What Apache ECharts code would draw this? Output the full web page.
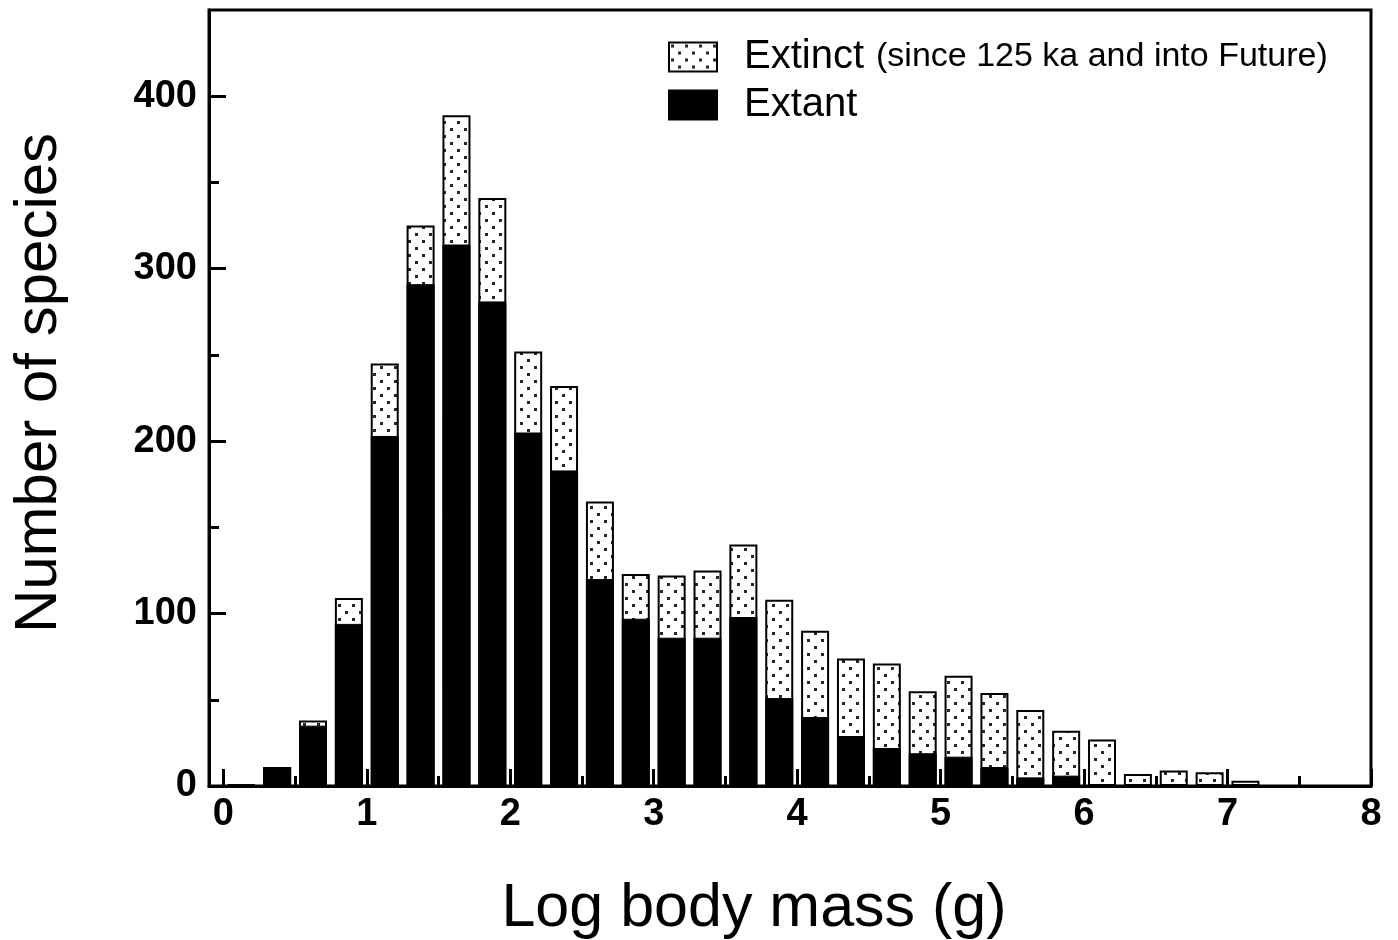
<!DOCTYPE html>
<html>
<head>
<meta charset="utf-8">
<script src="https://cdn.jsdelivr.net/npm/echarts@6/dist/echarts.min.js"></script>
<style>
html,body{margin:0;padding:0;background:#fff;}
#chart{width:1398px;height:940px;}
</style>
</head>
<body>
<div id="chart"></div>
<script>
// Bin centres (log10 body mass, 0.25-wide bins)
const binCenters = [0.125, 0.375, 0.625, 0.875, 1.125, 1.375, 1.625, 1.875, 2.125, 2.375,
                    2.625, 2.875, 3.125, 3.375, 3.625, 3.875, 4.125, 4.375, 4.625, 4.875,
                    5.125, 5.375, 5.625, 5.875, 6.125, 6.375, 6.625, 6.875, 7.125];
// Number of extant species per bin
const extant = [1, 11, 35, 94, 203, 291, 314, 281, 205, 183,
                120, 97, 86, 86, 98, 51, 40, 29, 22, 19,
                17, 11, 5, 6, 0, 0, 0, 0, 0];
// Number of extinct species per bin (stacked above extant)
const extinct = [0, 0, 3, 15, 42, 34, 75, 60, 47, 49,
                 45, 26, 36, 39, 42, 57, 50, 45, 49, 36,
                 47, 43, 39, 26, 27, 7, 9, 8, 3];
// Tick values
const xMajorTicks = [0, 1, 2, 3, 4, 5, 6, 7, 8];
const xMinorTicks = [0.5, 1.5, 2.5, 3.5, 4.5, 5.5, 6.5, 7.5];
const yMajorTicks = [0, 100, 200, 300, 400];
const yMinorTicks = [50, 150, 250, 350];

// dotted pattern for extinct bars
function makePattern() {
  const c = document.createElement('canvas');
  c.width = 14; c.height = 14;
  const g = c.getContext('2d');
  g.fillStyle = '#ffffff';
  g.fillRect(0, 0, 14, 14);
  g.fillStyle = '#262626';
  g.fillRect(2, 2, 3, 3);
  g.fillRect(9, 9, 3, 3);
  return c;
}
const dotPattern = { image: makePattern(), repeat: 'repeat' };

const FONT = 'Liberation Sans, Arial, sans-serif';
const chart = echarts.init(document.getElementById('chart'), null, { renderer: 'canvas' });

// extinct segment sits on top of the extant segment
const stackTop = binCenters.map((x, i) => [x, extant[i] + extinct[i]]);

const option = {
  backgroundColor: '#ffffff',
  animation: false,
  grid: {
    left: 209, right: 27, top: 10, bottom: 154,
    outerBoundsMode: 'none',
    containLabel: false,
    show: true, borderColor: '#000', borderWidth: 3, backgroundColor: 'transparent'
  },
  legend: {
    orient: 'vertical',
    left: 668, top: 37,
    padding: 0,
    itemWidth: 48, itemHeight: 29,
    itemGap: 8,
    icon: 'rect',
    data: ['Extinct', 'Extant'],
    formatter: function (name) {
      return name === 'Extinct'
        ? '{a|Extinct}{b|(since 125 ka and into Future)}'
        : '{a|Extant}';
    },
    textStyle: {
      fontFamily: FONT, color: '#000',
      rich: {
        a: { fontFamily: FONT, fontSize: 40, color: '#000', padding: [0, 0, 0, 22] },
        b: { fontFamily: FONT, fontSize: 34, color: '#000', padding: [0, 0, 0, 12] }
      }
    }
  },
  xAxis: [{
    type: 'value', min: -0.1, max: 8,
    position: 'bottom',
    name: 'Log body mass (g)', nameLocation: 'middle', nameGap: 93,
    nameTextStyle: { fontFamily: FONT, fontSize: 61, color: '#000', padding: [0, 72, 0, 0] },
    axisLine: { show: true, onZero: false, lineStyle: { color: '#000', width: 3 } },
    axisTick: { show: true, inside: true, length: 17, lineStyle: { color: '#000', width: 3 }, customValues: xMajorTicks },
    axisLabel: { fontFamily: FONT, fontSize: 38, fontWeight: 'bold', color: '#000', margin: 10, customValues: xMajorTicks },
    splitLine: { show: false }
  }, {
    type: 'value', min: -0.1, max: 8,
    position: 'bottom', offset: 0,
    axisLine: { show: false, onZero: false },
    axisTick: { show: true, inside: true, length: 10, lineStyle: { color: '#000', width: 3 }, customValues: xMinorTicks },
    axisLabel: { show: false },
    splitLine: { show: false }
  }],
  yAxis: [{
    type: 'value', min: 0, max: 450,
    position: 'left',
    name: 'Number of species', nameLocation: 'middle', nameGap: 140,
    nameTextStyle: { fontFamily: FONT, fontSize: 60, color: '#000', padding: [0, 0, 0, 30] },
    axisLine: { show: true, onZero: false, lineStyle: { color: '#000', width: 3 } },
    axisTick: { show: true, inside: true, length: 17, lineStyle: { color: '#000', width: 3 }, customValues: yMajorTicks },
    axisLabel: { fontFamily: FONT, fontSize: 38, fontWeight: 'bold', color: '#000', margin: 12, customValues: yMajorTicks },
    splitLine: { show: false }
  }, {
    type: 'value', min: 0, max: 450,
    position: 'left', offset: 0,
    axisLine: { show: false, onZero: false },
    axisTick: { show: true, inside: true, length: 10, lineStyle: { color: '#000', width: 3 }, customValues: yMinorTicks },
    axisLabel: { show: false },
    splitLine: { show: false }
  }],
  series: [{
    name: 'Extinct',
    type: 'bar',
    xAxisIndex: 0, yAxisIndex: 0,
    barWidth: 28,
    barGap: '-100%',
    itemStyle: { color: dotPattern, borderColor: '#000', borderWidth: 2 },
    data: stackTop
  }, {
    name: 'Extant',
    type: 'bar',
    xAxisIndex: 0, yAxisIndex: 0,
    barWidth: 28,
    barGap: '-100%',
    z: 3,
    itemStyle: { color: '#000', borderColor: '#000', borderWidth: 1 },
    data: binCenters.map((x, i) => [x, extant[i]])
  }]
};
chart.setOption(option);
</script>
</body>
</html>
